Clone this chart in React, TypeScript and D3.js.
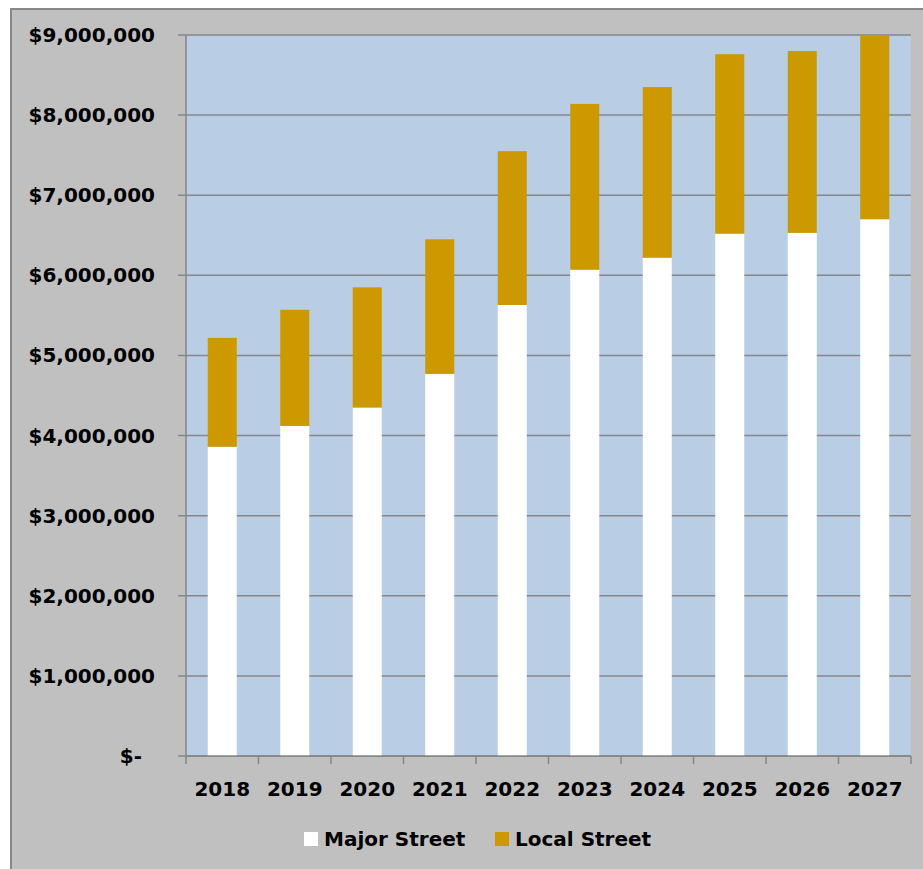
import React from "react";
import * as d3 from "d3";

const years = ["2018", "2019", "2020", "2021", "2022", "2023", "2024", "2025", "2026", "2027"];
const majorStreet = [3860000, 4120000, 4350000, 4770000, 5630000, 6070000, 6220000, 6520000, 6530000, 6700000];
const localStreet = [1360000, 1450000, 1500000, 1680000, 1920000, 2070000, 2130000, 2240000, 2270000, 2300000];
const yTicks = [0, 1000000, 2000000, 3000000, 4000000, 5000000, 6000000, 7000000, 8000000, 9000000];
const seriesNames = ["Major Street", "Local Street"];
const seriesColors = ["#ffffff", "#cc9900"];

const W = 923;
const H = 869;
const plot = { left: 186, right: 911, top: 35, bottom: 756 };
const FONT = "'DejaVu Sans', sans-serif";

export default function App() {
  const x = d3.scaleBand<string>().domain(years).range([plot.left, plot.right]).paddingInner(0.6).paddingOuter(0.3);
  const xb = d3.scaleBand<string>().domain(years).range([plot.left, plot.right]);
  const y = d3.scaleLinear().domain([0, 9000000]).range([plot.bottom, plot.top]);
  const data = years.map((yr, i) => ({ year: yr, major: majorStreet[i], local: localStreet[i] }));
  const stack = d3.stack<any>().keys(["major", "local"])(data);
  const fmt = (v: number) => (v === 0 ? "$-" : "$" + d3.format(",")(v));

  return (
    <svg width={W} height={H} style={{ position: "absolute", left: 0, top: 0 }} fontFamily={FONT}>
      <rect x={0} y={0} width={W} height={H} fill="#ffffff" />
      <rect x={11} y={9} width={W} height={H} fill="#c0c0c0" stroke="#888888" strokeWidth={2} />
      <rect x={plot.left} y={plot.top} width={plot.right - plot.left} height={plot.bottom - plot.top} fill="#b9cde5" />
      {yTicks.map((t) => (
        <g key={t}>
          <line x1={plot.left - 8} x2={plot.right} y1={y(t)} y2={y(t)} stroke="#868686" strokeWidth={1.5} />
          <text
            x={t === 0 ? 142 : 155}
            y={y(t)}
            dy="0.35em"
            textAnchor="end"
            fontSize={20}
            fontWeight="bold"
            fill="#000"
          >
            {fmt(t)}
          </text>
        </g>
      ))}
      {stack.map((s, si) => (
        <g key={si} fill={seriesColors[si]}>
          {s.map((d: any, i: number) => (
            <rect
              key={i}
              x={x(years[i])}
              width={x.bandwidth()}
              y={y(d[1])}
              height={y(d[0]) - y(d[1])}
            />
          ))}
        </g>
      ))}
      <line x1={plot.left} x2={plot.left} y1={plot.top} y2={plot.bottom} stroke="#868686" strokeWidth={1.5} />
      <line x1={plot.left} x2={plot.right} y1={plot.bottom} y2={plot.bottom} stroke="#868686" strokeWidth={1.5} />
      {years.map((yr) => (
        <line key={"t" + yr} x1={xb(yr)} x2={xb(yr)} y1={plot.bottom} y2={plot.bottom + 8} stroke="#868686" strokeWidth={1.5} />
      ))}
      <line x1={plot.right} x2={plot.right} y1={plot.bottom} y2={plot.bottom + 8} stroke="#868686" strokeWidth={1.5} />
      {years.map((yr) => (
        <text
          key={"l" + yr}
          x={(xb(yr) as number) + xb.bandwidth() / 2}
          y={796}
          textAnchor="middle"
          fontSize={20}
          fontWeight="bold"
          fill="#000"
        >
          {yr}
        </text>
      ))}
      {seriesNames.map((n, i) => {
        const lx = [304, 495][i];
        return (
          <g key={n}>
            <rect x={lx} y={832} width={14} height={14} fill={seriesColors[i]} />
            <text x={lx + 20} y={846} fontSize={20} fontWeight="bold" fill="#000">
              {n}
            </text>
          </g>
        );
      })}
    </svg>
  );
}
